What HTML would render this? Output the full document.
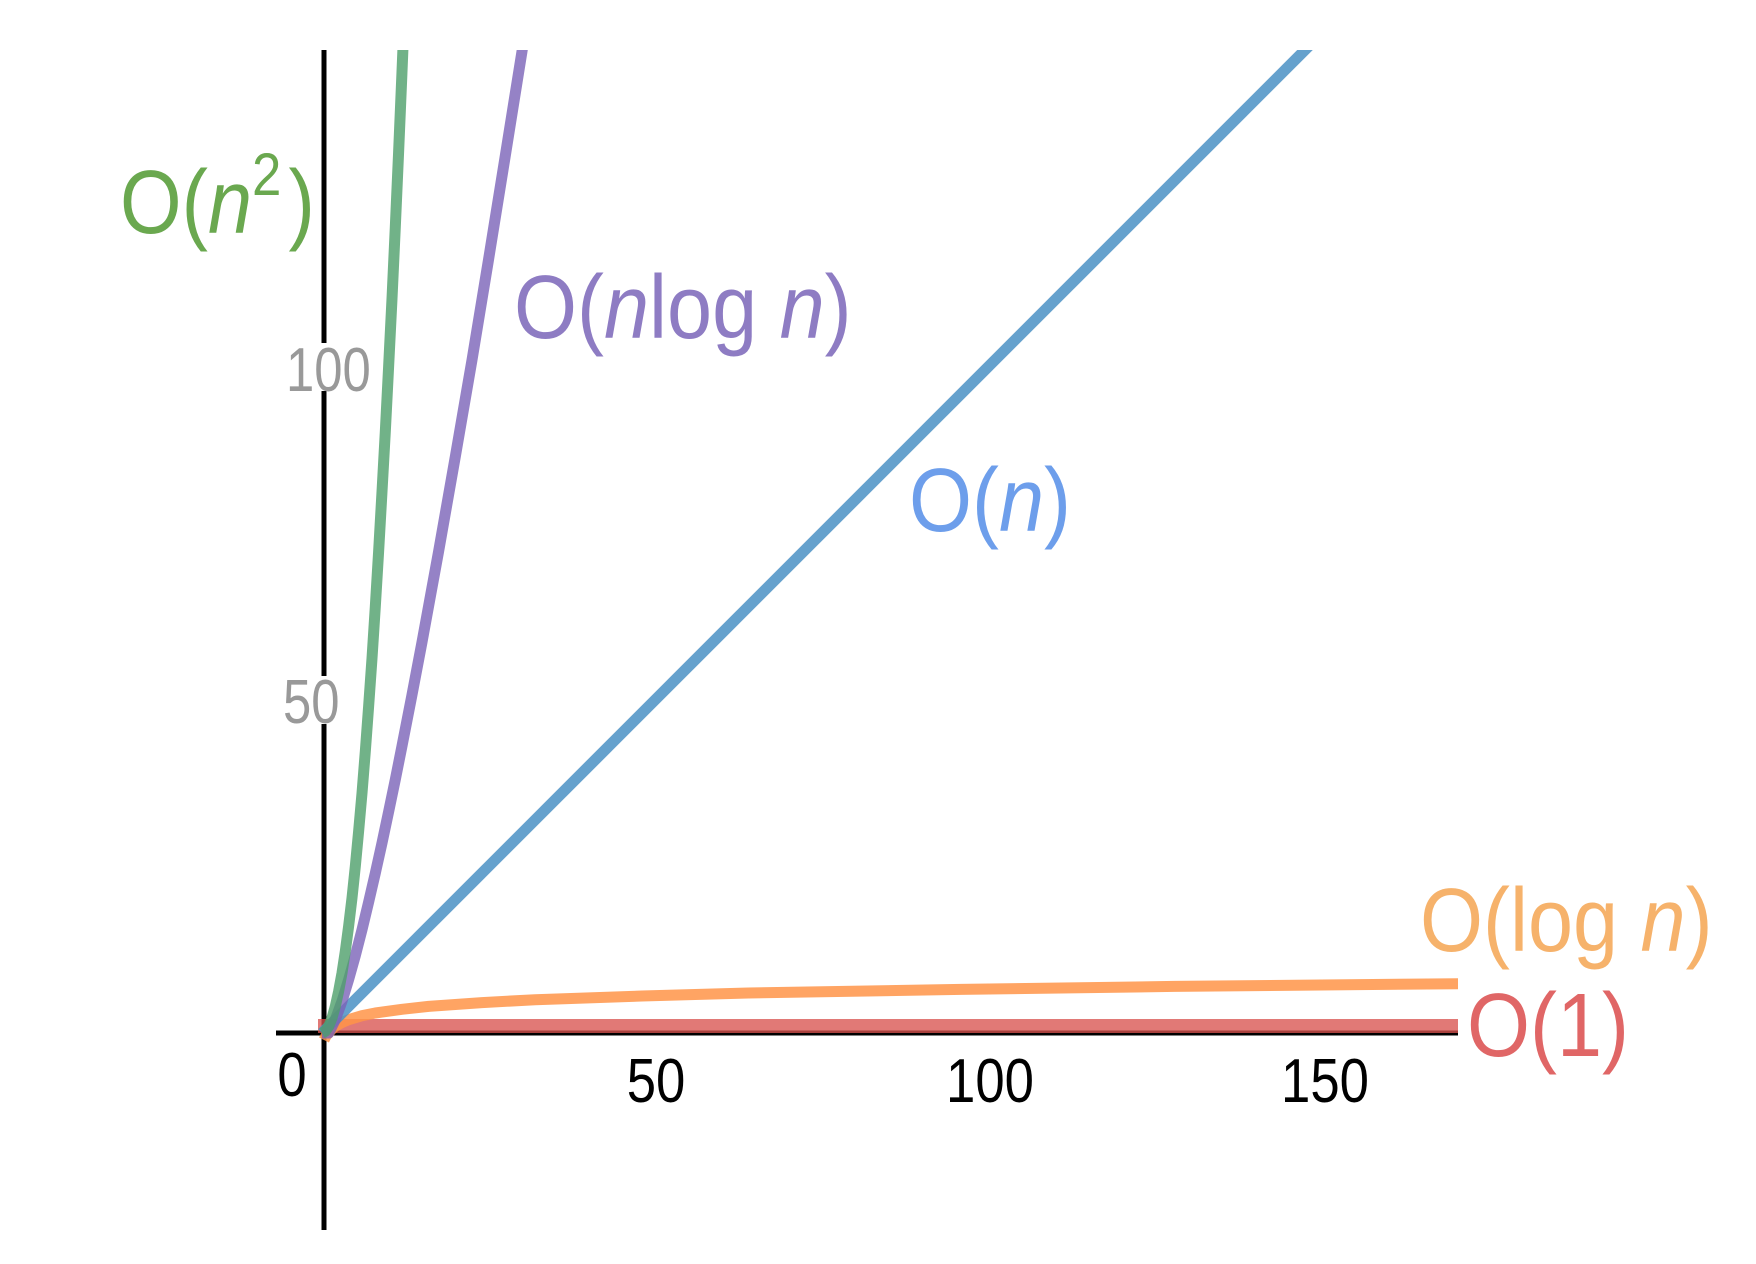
<!DOCTYPE html>
<html><head><meta charset="utf-8"><style>
html,body{margin:0;padding:0;background:#fff;}
svg{display:block;}
</style></head><body>
<svg width="1756" height="1264" viewBox="0 0 1756 1264" xmlns="http://www.w3.org/2000/svg">
<defs><clipPath id="c"><rect x="0" y="50" width="1458" height="1214"/></clipPath></defs>
<line x1="324" y1="50" x2="324" y2="1230" stroke="#000" stroke-width="5"/>
<line x1="276" y1="1033" x2="1458" y2="1033" stroke="#000" stroke-width="5"/>
<rect x="318" y="343" width="12" height="48" fill="#fff"/>
<rect x="318" y="676" width="12" height="48" fill="#fff"/>
<g font-family="'Liberation Sans',sans-serif" font-size="62" fill="#999">
<text x="286" y="391" transform="translate(286 0) scale(0.82 1) translate(-286 0)">100</text>
<text x="283" y="723" transform="translate(283 0) scale(0.82 1) translate(-283 0)">50</text>
</g>
<g clip-path="url(#c)" fill="none" stroke-width="11" stroke-linejoin="round">
<line x1="318" y1="1026" x2="1460" y2="1026" stroke="#d9534f" stroke-opacity="0.78" stroke-width="14"/>
<polyline stroke="#ff9448" stroke-opacity="0.85" points="324,1040 326,1036 328.7,1033 332,1029 335.3,1026.3 342,1022.5 348.6,1019.7 362,1015.7 375.3,1013 402,1009.3 428.6,1006.4 482,1002.6 535.1,999.7 642,996 748.2,993 961,989.4 1174.5,986.4 1460,983.7"/>
<line x1="322" y1="1033" x2="1330" y2="25" stroke="#4a90c4" stroke-opacity="0.85"/>
<polyline stroke="#7b63b8" stroke-opacity="0.8" points="322,1033 328.7,1033 335.3,1019.7 342,1001.3 348.6,979.7 355.3,955.8 362,929.7 368.6,902.2 375.3,873.2 382,843 388.6,811.8 395.3,779.6 401.9,746.5 411.9,695.3 421.9,642.7 438.5,552 455.2,457.3 472,360 488.5,259.8 505,157.6 521.8,52.6 528.5,10"/>
<polyline stroke="#4d9f6a" stroke-opacity="0.8" points="322,1033 325.3,1031.3 328.7,1026.3 332,1018 335.3,1006.4 338.6,991.4 342,973 345.3,951.3 348.6,926.4 352,898 355.3,866.5 358.6,831.5 362,793.2 365.3,751.6 368.6,706.7 372,658.4 375.3,606.8 378.6,551.8 381.9,493.5 385.3,431.8 388.6,367 392,298.7 395.3,227.1 398.6,152.3 401.9,74 403.9,25"/>
</g>
<g font-family="'Liberation Sans',sans-serif" font-size="62" fill="#000" text-anchor="middle">
<text x="292" y="1096" transform="translate(292 0) scale(0.85 1) translate(-292 0)">0</text>
<text x="656" y="1102" transform="translate(656 0) scale(0.85 1) translate(-656 0)">50</text>
<text x="990" y="1102" transform="translate(990 0) scale(0.85 1) translate(-990 0)">100</text>
<text x="1325" y="1102" transform="translate(1325 0) scale(0.85 1) translate(-1325 0)">150</text>
</g>
<g font-family="'Liberation Sans',sans-serif" font-size="90">
<text x="120" y="233" fill="#6aa84f" transform="translate(120 0) scale(0.88 1) translate(-120 0)">O(<tspan font-style="italic">n</tspan><tspan font-size="60" dy="-38">2</tspan><tspan dy="38" dx="8">)</tspan></text>
<text x="514" y="338" fill="#8e7cc3" transform="translate(514 0) scale(0.9 1) translate(-514 0)">O(<tspan font-style="italic">n</tspan>log <tspan font-style="italic">n</tspan>)</text>
<text x="909" y="531" fill="#6d9eeb" transform="translate(909 0) scale(0.9 1) translate(-909 0)">O(<tspan font-style="italic">n</tspan>)</text>
<text x="1420" y="951" fill="#f6b26b" transform="translate(1420 0) scale(0.9 1) translate(-1420 0)">O(log <tspan font-style="italic">n</tspan>)</text>
<text x="1467" y="1056" fill="#e06666" transform="translate(1467 0) scale(0.9 1) translate(-1467 0)">O(1)</text>
</g>
</svg>
</body></html>
